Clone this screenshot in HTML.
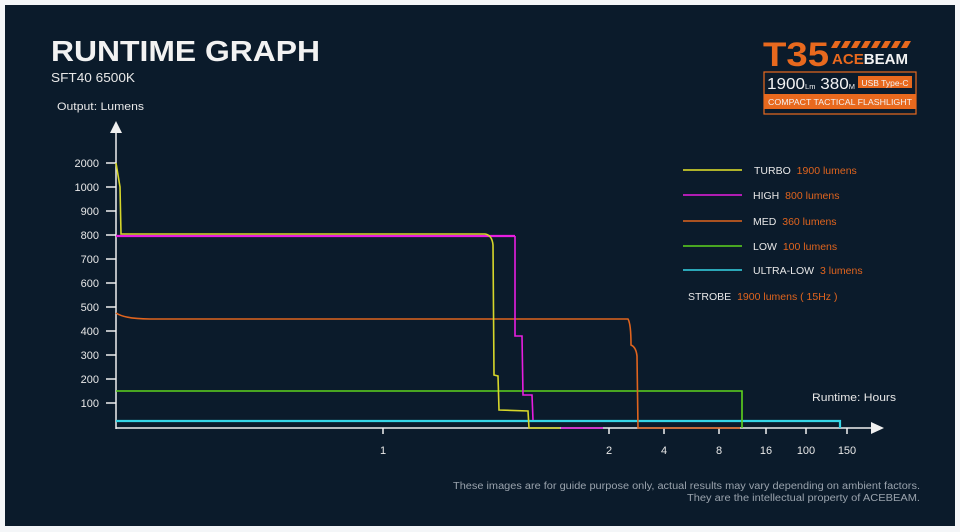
<!DOCTYPE html>
<html><head><meta charset="utf-8"><style>
html,body{margin:0;padding:0;background:#fff;}
svg{display:block;font-family:"Liberation Sans",sans-serif;}
</style></head><body>
<svg width="960" height="532" viewBox="0 0 960 532" xmlns="http://www.w3.org/2000/svg">
<rect x="0" y="0" width="960" height="532" fill="#f4f6f8"/>
<rect x="5" y="5" width="950" height="521" fill="#0b1b2b"/>
<text x="51" y="61" fill="#f2f2f2" font-size="29" font-weight="bold" textLength="269" lengthAdjust="spacingAndGlyphs">RUNTIME GRAPH</text>
<text x="51" y="82" fill="#e8e8e8" font-size="13" textLength="84" lengthAdjust="spacingAndGlyphs">SFT40 6500K</text>
<text x="57" y="110" fill="#e8e8e8" font-size="11" textLength="87" lengthAdjust="spacingAndGlyphs">Output: Lumens</text>
<!-- logo -->
<text x="763" y="66" fill="#e8691e" font-size="34" font-weight="bold" textLength="66" lengthAdjust="spacingAndGlyphs">T35</text>
<g fill="#e8691e"><polygon points="835,41 841,41 837,48 831,48"/><polygon points="845,41 851,41 847,48 841,48"/><polygon points="855,41 861,41 857,48 851,48"/><polygon points="865,41 871,41 867,48 861,48"/><polygon points="875,41 881,41 877,48 871,48"/><polygon points="885,41 891,41 887,48 881,48"/><polygon points="895,41 901,41 897,48 891,48"/><polygon points="905,41 911,41 907,48 901,48"/></g>
<text x="832" y="64" fill="#e8691e" font-size="15" font-weight="bold" textLength="76" lengthAdjust="spacingAndGlyphs">ACE<tspan fill="#f2f2f2">BEAM</tspan></text>
<rect x="764" y="72" width="152" height="42" fill="none" stroke="#e8691e" stroke-width="1.2"/>
<text x="767" y="89" fill="#f2f2f2" font-size="16" textLength="88" lengthAdjust="spacingAndGlyphs">1900<tspan font-size="7">Lm</tspan> 380<tspan font-size="7">M</tspan></text>
<rect x="858" y="76" width="54" height="12" fill="#e8691e"/>
<text x="885" y="86" fill="#f2f2f2" font-size="8.5" text-anchor="middle">USB Type-C</text>
<rect x="764" y="94" width="152" height="15" fill="#e8691e"/>
<text x="840" y="105" fill="#f2f2f2" font-size="8.5" text-anchor="middle" textLength="144" lengthAdjust="spacingAndGlyphs">COMPACT TACTICAL FLASHLIGHT</text>
<!-- axes -->
<g stroke="#f0f0f0" stroke-width="1.5" fill="none">
<line x1="116" y1="130" x2="116" y2="429"/>
<line x1="116" y1="428" x2="872" y2="428"/>
<line x1="106" y1="163" x2="116" y2="163"/><line x1="106" y1="187" x2="116" y2="187"/><line x1="106" y1="211" x2="116" y2="211"/><line x1="106" y1="235" x2="116" y2="235"/><line x1="106" y1="259" x2="116" y2="259"/><line x1="106" y1="283" x2="116" y2="283"/><line x1="106" y1="307" x2="116" y2="307"/><line x1="106" y1="331" x2="116" y2="331"/><line x1="106" y1="355" x2="116" y2="355"/><line x1="106" y1="379" x2="116" y2="379"/><line x1="106" y1="403" x2="116" y2="403"/>
<line x1="383" y1="428" x2="383" y2="434"/><line x1="609" y1="428" x2="609" y2="434"/><line x1="664" y1="428" x2="664" y2="434"/><line x1="719" y1="428" x2="719" y2="434"/><line x1="766" y1="428" x2="766" y2="434"/><line x1="806" y1="428" x2="806" y2="434"/><line x1="847" y1="428" x2="847" y2="434"/>
</g>
<polygon points="116,121 110,133 122,133" fill="#f0f0f0"/>
<polygon points="884,428 871,422 871,434" fill="#f0f0f0"/>
<g fill="#e8e8e8" font-size="11" text-anchor="end">
<text x="99" y="167">2000</text><text x="99" y="191">1000</text><text x="99" y="215">900</text><text x="99" y="239">800</text><text x="99" y="263">700</text><text x="99" y="287">600</text><text x="99" y="311">500</text><text x="99" y="335">400</text><text x="99" y="359">300</text><text x="99" y="383">200</text><text x="99" y="407">100</text>
</g>
<g fill="#e8e8e8" font-size="11" text-anchor="middle">
<text x="383" y="454">1</text><text x="609" y="454">2</text><text x="664" y="454">4</text><text x="719" y="454">8</text><text x="766" y="454">16</text><text x="806" y="454">100</text><text x="847" y="454">150</text>
</g>
<text x="812" y="401" fill="#e8e8e8" font-size="11" textLength="84" lengthAdjust="spacingAndGlyphs">Runtime: Hours</text>
<!-- series -->
<g fill="none" stroke-width="1.6">
<polyline stroke="#36d6e6" stroke-width="2.2" points="116,421 840,421 840,428"/>
<polyline stroke="#5ed41e" points="116,391 742,391 742,428"/>
<path stroke="#e0641e" d="M116,313 Q125,319 150,319 L628,319 Q631,324 631,345 Q636,347 637,356 L638,428 L740,428"/>
<polyline stroke="#e81ee0" stroke-width="2.2" points="116,236 515,236"/>
<polyline stroke="#e81ee0" points="515,236 515,336 522,336 523,395 532,395 533,420"/>
<path stroke="#e81ee0" d="M561,428 L603,428"/>
<path stroke="#d6d62a" d="M116,163 L120,187 L121,234 L485,234 Q492,235 493,245 L494,375 L498,376 L499,410 L528,411 L529,428 L560,428"/>
</g>
<!-- legend -->
<g font-size="10.5">
<line x1="683" y1="170" x2="742" y2="170" stroke="#e6e62a" stroke-width="1.5"/>
<text x="754" y="174" fill="#e8e8e8">TURBO <tspan fill="#e0641e" dx="3">1900 lumens</tspan></text>
<line x1="683" y1="195" x2="742" y2="195" stroke="#e81ee0" stroke-width="1.5"/>
<text x="753" y="199" fill="#e8e8e8">HIGH <tspan fill="#e0641e" dx="3">800 lumens</tspan></text>
<line x1="683" y1="221" x2="742" y2="221" stroke="#e0641e" stroke-width="1.5"/>
<text x="753" y="225" fill="#e8e8e8">MED <tspan fill="#e0641e" dx="3">360 lumens</tspan></text>
<line x1="683" y1="246" x2="742" y2="246" stroke="#5ed41e" stroke-width="1.5"/>
<text x="753" y="250" fill="#e8e8e8">LOW <tspan fill="#e0641e" dx="3">100 lumens</tspan></text>
<line x1="683" y1="270" x2="742" y2="270" stroke="#36d6e6" stroke-width="1.5"/>
<text x="753" y="274" fill="#e8e8e8">ULTRA-LOW <tspan fill="#e0641e" dx="3">3 lumens</tspan></text>
<text x="688" y="300" fill="#e8e8e8">STROBE <tspan fill="#e0641e" dx="3">1900 lumens ( 15Hz )</tspan></text>
</g>
<g fill="#9aa3ad" font-size="10">
<text x="453" y="489" textLength="467" lengthAdjust="spacingAndGlyphs">These images are for guide purpose only, actual results may vary depending on ambient factors.</text>
<text x="687" y="501" textLength="233" lengthAdjust="spacingAndGlyphs">They are the intellectual property of ACEBEAM.</text>
</g>
</svg>
</body></html>
